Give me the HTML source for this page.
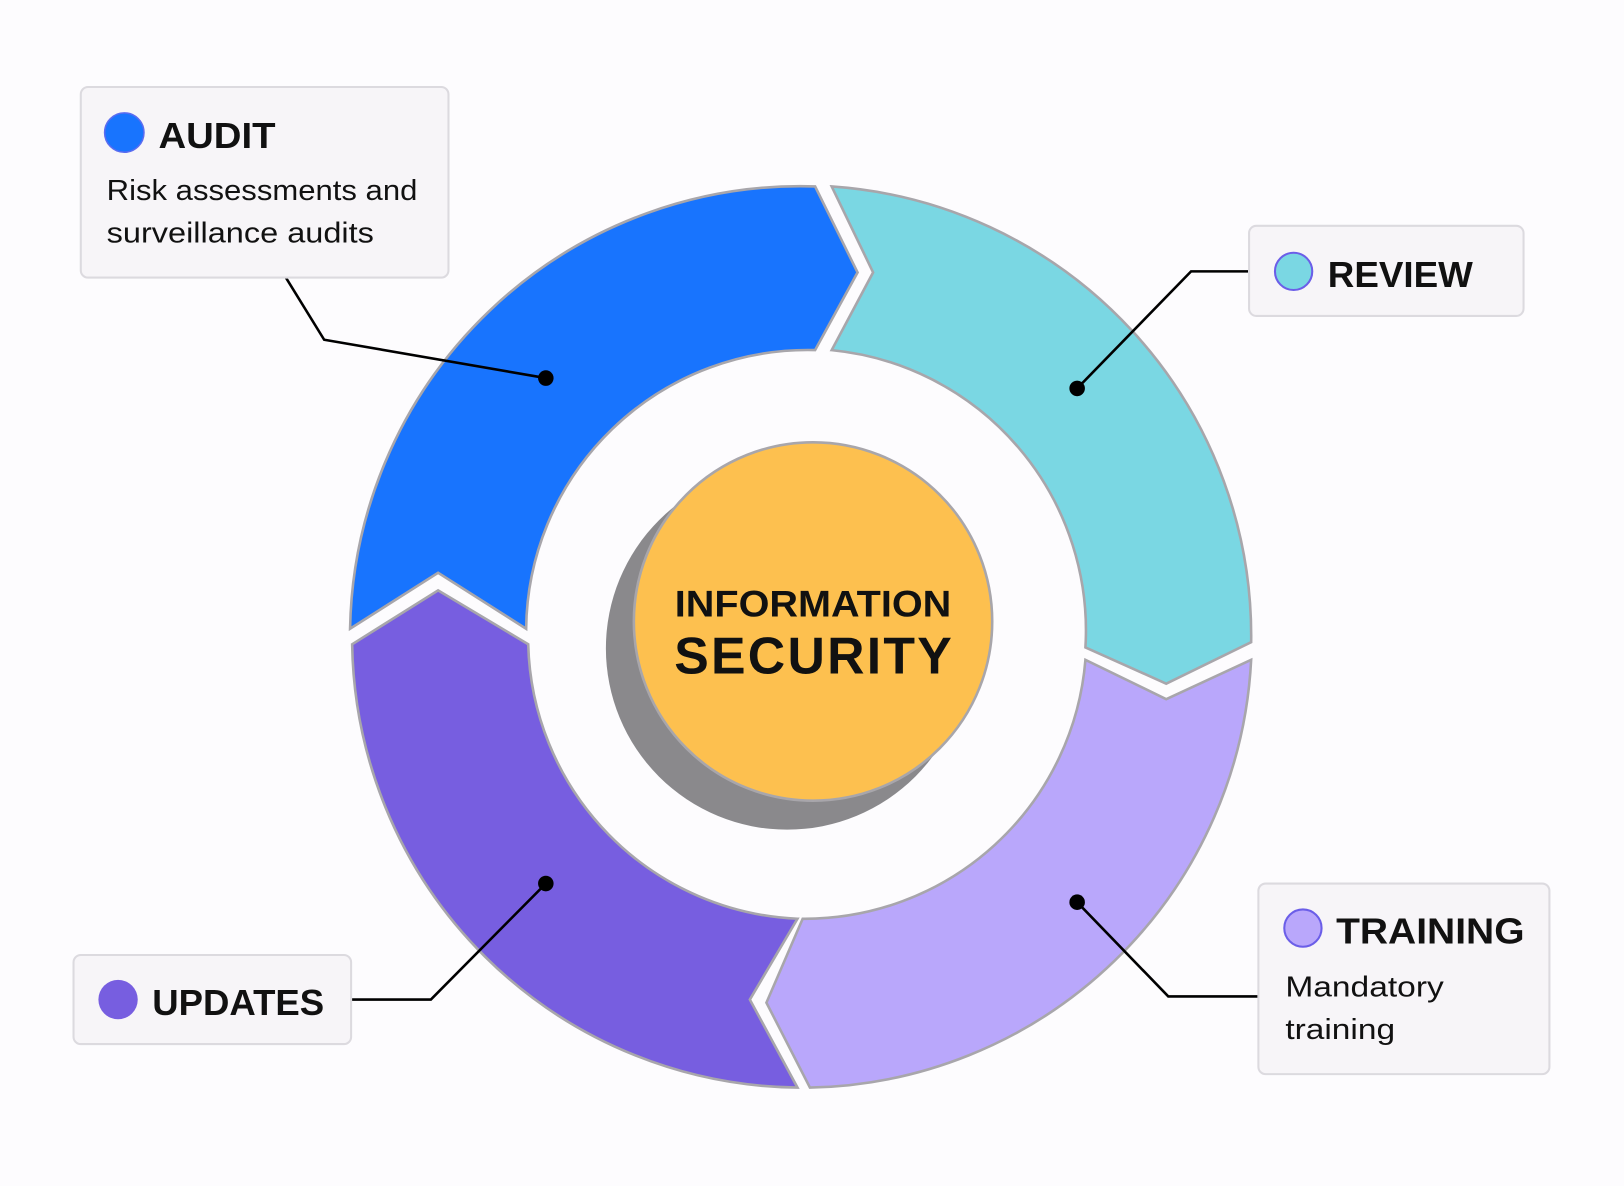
<!DOCTYPE html>
<html><head><meta charset="utf-8"><style>
html,body{margin:0;padding:0;background:#fdfcfe;}
svg{display:block;}
text{font-family:"Liberation Sans",sans-serif;fill:#111;}
</style></head><body>
<svg width="1624" height="1186" viewBox="0 0 1568 1145" preserveAspectRatio="none" xmlns="http://www.w3.org/2000/svg">
<rect width="1568" height="1145" fill="#fdfcfe"/>
<g stroke="#a8a6ab" stroke-width="2.5" stroke-linejoin="miter">
<path d="M338,607 A435,435 0 0 1 787,180 L828,263 L787,338 A272,272 0 0 0 508,607 L423,553 Z" fill="#1874fe"/>
<path d="M803,180 A435,435 0 0 1 1208,620 L1126,660 L1048,625 A272,272 0 0 0 803,338 L843,263 Z" fill="#7ad7e3"/>
<path d="M1208,637 A435,435 0 0 1 782,1050 L740,968 L775,887 A272,272 0 0 0 1048,637 L1126,675 Z" fill="#b9a7fb"/>
<path d="M770,1050 A435,435 0 0 1 340,622 L423,570 L510,622 A272,272 0 0 0 770,887 L724,965 Z" fill="#775ee0"/>
</g>
<circle cx="760" cy="626" r="175" fill="#8a898c"/>
<circle cx="785" cy="600" r="173" fill="#fdc04f" stroke="#a8a6ab" stroke-width="2.5"/>
<text x="785" y="595" font-size="36" font-weight="bold" text-anchor="middle" textLength="267" lengthAdjust="spacingAndGlyphs">INFORMATION</text>
<text x="785" y="650" font-size="50" font-weight="bold" text-anchor="middle" textLength="268" lengthAdjust="spacing">SECURITY</text>
<g stroke="#000" stroke-width="2.5" fill="none">
<polyline points="276,268 313,328 527,365"/>
<polyline points="1205,262 1150,262 1040,375"/>
<polyline points="1215,962 1128,962 1040,871"/>
<polyline points="339,965 416,965 527,853"/>
</g>
<g fill="#000">
<circle cx="527" cy="365" r="7.5"/><circle cx="1040" cy="375" r="7.5"/>
<circle cx="1040" cy="871" r="7.5"/><circle cx="527" cy="853" r="7.5"/>
</g>
<g fill="#f7f5f8" stroke="#dcdadf" stroke-width="2">
<rect x="78" y="84" width="355" height="184" rx="7"/>
<rect x="1206" y="218" width="265" height="87" rx="7"/>
<rect x="1215" y="853" width="281" height="184" rx="7"/>
<rect x="71" y="922" width="268" height="86" rx="7"/>
</g>
<circle cx="120" cy="128" r="19" fill="#1874fe" stroke="#5b6cf0" stroke-width="1.5"/>
<circle cx="1249" cy="262" r="18" fill="#7ad7e3" stroke="#6b5ee8" stroke-width="2"/>
<circle cx="1258" cy="896" r="18" fill="#b9a7fb" stroke="#6b5ee8" stroke-width="2"/>
<circle cx="114" cy="965" r="19" fill="#775ee0"/>
<text x="153" y="143" font-size="35" font-weight="bold" textLength="113" lengthAdjust="spacingAndGlyphs">AUDIT</text>
<text x="103" y="193" font-size="28" textLength="300" lengthAdjust="spacingAndGlyphs">Risk assessments and</text>
<text x="103" y="234" font-size="28" textLength="258" lengthAdjust="spacingAndGlyphs">surveillance audits</text>
<text x="1282" y="277" font-size="35" font-weight="bold" textLength="140" lengthAdjust="spacingAndGlyphs">REVIEW</text>
<text x="1290" y="911" font-size="35" font-weight="bold" textLength="182" lengthAdjust="spacingAndGlyphs">TRAINING</text>
<text x="1241" y="962" font-size="28" textLength="153" lengthAdjust="spacingAndGlyphs">Mandatory</text>
<text x="1241" y="1003" font-size="28" textLength="106" lengthAdjust="spacingAndGlyphs">training</text>
<text x="147" y="980" font-size="35" font-weight="bold" textLength="166" lengthAdjust="spacingAndGlyphs">UPDATES</text>
</svg>
</body></html>
